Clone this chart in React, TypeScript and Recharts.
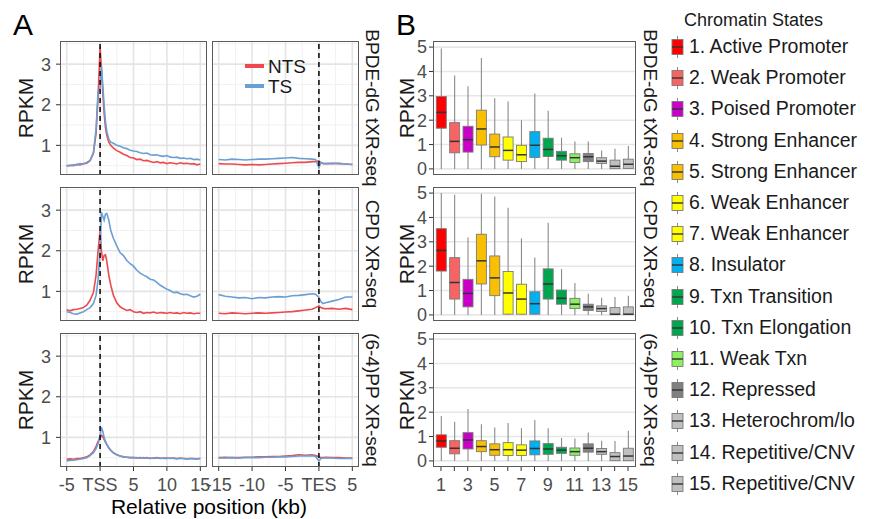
import React from 'react';
import { LineChart, Line, XAxis, YAxis, CartesianGrid, ReferenceLine, BarChart, Bar } from 'recharts';

const FONT = '"Liberation Sans", Arial, Helvetica, sans-serif';

// ---------- Panel A data ----------
const strandNames = ['NTS', 'TS'];
const assayNames = ['BPDE-dG tXR-seq', 'CPD XR-seq', '(6-4)PP XR-seq'];

const tssX = [-5, -4.5, -4, -3.5, -3, -2.5, -2, -1.5, -1, -0.6, -0.3, 0, 0.2, 0.4, 0.6, 0.8, 1, 1.3, 1.6, 2, 2.5, 3, 3.5, 4, 4.5, 5, 5.5, 6, 6.5, 7, 7.5, 8, 8.5, 9, 9.5, 10, 10.5, 11, 11.5, 12, 12.5, 13, 13.5, 14, 14.5, 15];
const tesX = [-15, -14, -13, -12, -11, -10, -9, -8, -7, -6, -5, -4, -3, -2, -1, -0.5, 0, 0.3, 0.6, 1, 2, 3, 4, 5];

const bpdeTssNTS = [0.49, 0.51, 0.5, 0.53, 0.52, 0.55, 0.56, 0.62, 0.8, 1.3, 2.2, 3.42, 2.9, 2.3, 1.8, 1.45, 1.25, 1.08, 1.0, 0.93, 0.87, 0.83, 0.78, 0.75, 0.7, 0.69, 0.65, 0.66, 0.62, 0.63, 0.6, 0.58, 0.6, 0.57, 0.58, 0.55, 0.57, 0.56, 0.54, 0.57, 0.55, 0.56, 0.54, 0.55, 0.52, 0.54];
const bpdeTssTS = [0.5, 0.5, 0.52, 0.52, 0.55, 0.54, 0.58, 0.63, 0.82, 1.4, 2.35, 2.4, 2.95, 2.5, 2.0, 1.6, 1.35, 1.15, 1.08, 1.05, 1.0, 0.98, 0.94, 0.92, 0.88, 0.86, 0.85, 0.82, 0.8, 0.81, 0.77, 0.76, 0.77, 0.74, 0.73, 0.75, 0.71, 0.7, 0.71, 0.68, 0.69, 0.67, 0.68, 0.65, 0.66, 0.64];
const bpdeTesNTS = [0.55, 0.54, 0.54, 0.53, 0.52, 0.53, 0.52, 0.53, 0.54, 0.55, 0.56, 0.57, 0.58, 0.58, 0.6, 0.6, 0.62, 0.57, 0.55, 0.55, 0.56, 0.55, 0.54, 0.53];
const bpdeTesTS = [0.65, 0.64, 0.66, 0.65, 0.64, 0.65, 0.66, 0.66, 0.67, 0.68, 0.69, 0.7, 0.68, 0.67, 0.66, 0.65, 0.45, 0.58, 0.56, 0.55, 0.55, 0.56, 0.54, 0.53];

const cpdTssNTS = [0.55, 0.52, 0.55, 0.56, 0.58, 0.6, 0.66, 0.78, 0.97, 1.4, 2.0, 2.5, 2.0, 1.75, 1.88, 1.9, 1.75, 1.4, 1.15, 0.9, 0.72, 0.62, 0.57, 0.53, 0.55, 0.5, 0.48, 0.5, 0.46, 0.48, 0.47, 0.49, 0.46, 0.48, 0.47, 0.46, 0.48, 0.46, 0.47, 0.45, 0.48, 0.46, 0.47, 0.45, 0.46, 0.46];
const cpdTssTS = [0.5, 0.48, 0.45, 0.44, 0.47, 0.5, 0.55, 0.6, 0.7, 0.9, 1.3, 2.0, 2.95, 2.85, 2.75, 2.9, 2.92, 2.75, 2.5, 2.3, 2.12, 1.95, 1.88, 1.76, 1.68, 1.62, 1.52, 1.45, 1.4, 1.36, 1.3, 1.28, 1.22, 1.15, 1.1, 1.05, 1.02, 0.97, 0.98, 0.94, 0.92, 0.93, 0.89, 0.86, 0.88, 0.93];
const cpdTesNTS = [0.46, 0.45, 0.47, 0.46, 0.45, 0.46, 0.47, 0.46, 0.47, 0.48, 0.49, 0.5, 0.52, 0.54, 0.56, 0.6, 0.64, 0.6, 0.58, 0.57, 0.58, 0.56, 0.58, 0.55];
const cpdTesTS = [0.92, 0.88, 0.86, 0.84, 0.85, 0.82, 0.85, 0.84, 0.86, 0.87, 0.86, 0.89, 0.9, 0.92, 0.94, 0.93, 0.85, 0.75, 0.7, 0.72, 0.76, 0.8, 0.86, 0.86];

const pp64TssNTS = [0.46, 0.47, 0.46, 0.48, 0.48, 0.5, 0.52, 0.57, 0.65, 0.78, 0.9, 0.98, 1.05, 1.02, 0.95, 0.88, 0.82, 0.74, 0.68, 0.62, 0.57, 0.54, 0.52, 0.51, 0.5, 0.5, 0.49, 0.5, 0.49, 0.5, 0.48, 0.49, 0.5, 0.48, 0.49, 0.49, 0.48, 0.49, 0.48, 0.49, 0.48, 0.47, 0.48, 0.48, 0.47, 0.48];
const pp64TssTS = [0.42, 0.43, 0.44, 0.45, 0.46, 0.48, 0.5, 0.55, 0.62, 0.72, 0.85, 1.05, 1.25, 1.15, 1.0, 0.9, 0.83, 0.75, 0.68, 0.62, 0.57, 0.54, 0.52, 0.51, 0.5, 0.5, 0.5, 0.49, 0.5, 0.49, 0.49, 0.48, 0.49, 0.49, 0.48, 0.48, 0.49, 0.48, 0.47, 0.48, 0.48, 0.47, 0.48, 0.47, 0.47, 0.48];
const pp64TesNTS = [0.5, 0.51, 0.5, 0.5, 0.51, 0.51, 0.52, 0.52, 0.53, 0.53, 0.54, 0.55, 0.57, 0.56, 0.57, 0.55, 0.52, 0.5, 0.5, 0.51, 0.5, 0.5, 0.49, 0.49];
const pp64TesTS = [0.49, 0.49, 0.5, 0.49, 0.5, 0.5, 0.5, 0.51, 0.51, 0.52, 0.52, 0.53, 0.54, 0.54, 0.55, 0.53, 0.42, 0.48, 0.49, 0.49, 0.49, 0.48, 0.48, 0.48];

const tssTicks = [-5, 0, 5, 10, 15];
const tssMinor = [-2.5, 2.5, 7.5, 12.5];
const tesTicks = [-15, -10, -5, 0, 5];
const tesMinor = [-12.5, -7.5, -2.5, 2.5];
const rpkmTicksA = [1, 2, 3];
const rpkmMinorA = [0.5, 1.5, 2.5, 3.5];

// ---------- Panel B data ----------
const stateIds = ['1', '2', '3', '4', '5', '6', '7', '8', '9', '10', '11', '12', '13', '14', '15'];
const stateNames = ['1. Active Promoter', '2. Weak Promoter', '3. Poised Promoter', '4. Strong Enhancer', '5. Strong Enhancer', '6. Weak Enhancer', '7. Weak Enhancer', '8. Insulator', '9. Txn Transition', '10. Txn Elongation', '11. Weak Txn', '12. Repressed', '13. Heterochrom/lo', '14. Repetitive/CNV', '15. Repetitive/CNV'];
const rpkmTicksB = [0, 1, 2, 3, 4, 5];

const bpdeLow = [0, 0, 0, 0, 0, 0, 0, 0, 0, 0, 0, 0, 0, 0, 0];
const bpdeQ1 = [1.67, 0.66, 0.69, 0.98, 0.5, 0.36, 0.3, 0.47, 0.51, 0.36, 0.26, 0.3, 0.22, 0.01, 0.02];
const bpdeMed = [2.32, 1.13, 1.2, 1.64, 0.9, 0.76, 0.58, 0.97, 0.8, 0.54, 0.46, 0.5, 0.32, 0.11, 0.19];
const bpdeQ3 = [2.97, 1.9, 1.75, 2.41, 1.43, 1.31, 0.97, 1.53, 1.26, 0.72, 0.62, 0.63, 0.46, 0.36, 0.4];
const bpdeHigh = [4.94, 3.83, 3.39, 4.55, 2.9, 2.77, 2.0, 3.1, 2.39, 1.28, 1.13, 1.13, 0.76, 0.83, 0.94];

const cpdLow = [0, 0, 0, 0, 0, 0, 0, 0, 0, 0, 0, 0, 0, 0, 0];
const cpdQ1 = [1.8, 0.65, 0.33, 1.27, 0.79, 0.03, 0.03, 0.03, 0.65, 0.44, 0.26, 0.18, 0.14, 0.01, 0.01];
const cpdMed = [2.65, 1.33, 0.88, 2.22, 1.52, 0.9, 0.65, 0.46, 1.27, 0.68, 0.44, 0.33, 0.26, 0.03, 0.03];
const cpdQ3 = [3.54, 2.35, 1.46, 3.31, 2.42, 1.78, 1.26, 0.95, 1.89, 1.02, 0.68, 0.44, 0.37, 0.3, 0.33];
const cpdHigh = [5.0, 4.93, 3.18, 4.97, 4.86, 4.4, 3.14, 2.36, 3.78, 1.89, 1.31, 0.87, 0.7, 0.73, 0.79];

const pp64Low = [0, 0, 0, 0, 0, 0, 0, 0, 0, 0, 0, 0, 0, 0, 0];
const pp64Q1 = [0.56, 0.29, 0.49, 0.38, 0.23, 0.22, 0.22, 0.25, 0.27, 0.31, 0.23, 0.36, 0.27, 0.01, 0.01];
const pp64Med = [0.82, 0.52, 0.86, 0.59, 0.46, 0.46, 0.44, 0.51, 0.49, 0.44, 0.38, 0.52, 0.38, 0.18, 0.2];
const pp64Q3 = [1.07, 0.83, 1.16, 0.83, 0.7, 0.75, 0.66, 0.82, 0.71, 0.56, 0.53, 0.7, 0.51, 0.34, 0.52];
const pp64High = [1.84, 1.61, 2.13, 1.5, 1.37, 1.56, 1.34, 1.68, 1.34, 0.94, 0.92, 1.17, 0.83, 0.82, 1.24];

// ---------- styles ----------
const RED = '#EC4A4E';
const BLUE = '#6A9FD3';
const stateColors = ['#FF0000', '#F86464', '#C800C8', '#F8C000', '#F8C000', '#FFFF00', '#FFFF00', '#00B0F0', '#00A64F', '#00A64F', '#8CF060', '#808080', '#C0C0C0', '#C0C0C0', '#C0C0C0'];

const makeLineRows = (xs: number[], nts: number[], ts: number[]) =>
  xs.map((x, i) => ({ x, NTS: nts[i], TS: ts[i] }));

const makeBoxRows = (lo: number[], q1: number[], med: number[], q3: number[], hi: number[]) =>
  stateIds.map((s, i) => ({ state: s, lo: lo[i], q1: q1[i], med: med[i], q3: q3[i], hi: hi[i], range: [lo[i], hi[i]] }));

const lineRows = [
  [makeLineRows(tssX, bpdeTssNTS, bpdeTssTS), makeLineRows(tesX, bpdeTesNTS, bpdeTesTS)],
  [makeLineRows(tssX, cpdTssNTS, cpdTssTS), makeLineRows(tesX, cpdTesNTS, cpdTesTS)],
  [makeLineRows(tssX, pp64TssNTS, pp64TssTS), makeLineRows(tesX, pp64TesNTS, pp64TesTS)],
];
const boxRows = [
  makeBoxRows(bpdeLow, bpdeQ1, bpdeMed, bpdeQ3, bpdeHigh),
  makeBoxRows(cpdLow, cpdQ1, cpdMed, cpdQ3, cpdHigh),
  makeBoxRows(pp64Low, pp64Q1, pp64Med, pp64Q3, pp64High),
];

// layout
const ROW_TOPS = [41, 187, 333];
const ROW_H = 134;
const A_COLS = [60, 212];
const A_W = 147;
const B_LEFT = 433;
const B_W = 203;

const tickStyle = { fontSize: 18, fill: '#4D4D4D', fontFamily: FONT };

function LinePanel({ col, row }: { col: number; row: number }) {
  const showY = col === 0;
  const showX = row === 2;
  const yW = showY ? 60 : 0;
  const xH = showX ? 40 : 0;
  const mL = col === 0 ? 0 : 16;
  const mR = col === 0 ? 12 : 8;
  const ticks = col === 0 ? tssTicks : tesTicks;
  const minor = col === 0 ? tssMinor : tesMinor;
  const domain = col === 0 ? [-6, 16] : [-16, 6];
  const label = col === 0 ? 'TSS' : 'TES';
  return (
    <div style={{ position: 'absolute', left: A_COLS[col] - yW - mL, top: ROW_TOPS[row] }}>
      <LineChart width={A_W + yW + mL + mR} height={ROW_H + xH} data={lineRows[row][col]} margin={{ top: 0, right: mR, bottom: 0, left: mL }}>
        <CartesianGrid horizontalValues={rpkmMinorA} verticalValues={minor} stroke="#F1F1F1" strokeWidth={1} />
        <CartesianGrid horizontalValues={rpkmTicksA} verticalValues={ticks} stroke="#E4E4E4" strokeWidth={1.6} />
        <XAxis
          type="number"
          dataKey="x"
          domain={domain}
          ticks={ticks}
          interval={0}
          hide={!showX}
          height={40}
          axisLine={false}
          tickLine={{ stroke: '#333' }}
          tickSize={4}
          tickMargin={7}
          tick={tickStyle}
          tickFormatter={(v: number) => (v === 0 ? label : String(v))}
        />
        <YAxis
          type="number"
          domain={[0.27, 3.57]}
          ticks={rpkmTicksA}
          interval={0}
          hide={!showY}
          width={60}
          axisLine={false}
          tickLine={{ stroke: '#333' }}
          tickSize={4}
          tickMargin={5}
          tick={tickStyle}
        />
        <Line dataKey="NTS" stroke={RED} strokeWidth={1.6} dot={false} isAnimationActive={false} />
        <Line dataKey="TS" stroke={BLUE} strokeWidth={1.6} dot={false} isAnimationActive={false} />
        <ReferenceLine x={0} stroke="#111" strokeWidth={1.6} strokeDasharray="5 4" />
      </LineChart>
      <div style={{ position: 'absolute', left: yW + mL, top: 0, width: A_W, height: ROW_H, border: '1.2px solid #5A5A5A', boxSizing: 'border-box', pointerEvents: 'none' }} />
    </div>
  );
}

function BoxShape(props: any) {
  const { x, y, width, height, payload } = props;
  if (!payload) return null;
  const top = height >= 0 ? y : y + height;
  const h = Math.abs(height);
  const span = payload.hi - payload.lo;
  const k = span > 0 ? h / span : 0;
  const py = (v: number) => top + (payload.hi - v) * k;
  const cx = x + width / 2;
  const idx = stateIds.indexOf(payload.state);
  return (
    <g>
      <line x1={cx} x2={cx} y1={py(payload.hi)} y2={py(payload.lo)} stroke="#8A8A8A" strokeWidth={1.1} />
      <rect x={x} y={py(payload.q3)} width={width} height={Math.max(py(payload.q1) - py(payload.q3), 0.5)} fill={stateColors[idx]} stroke="#7A7A7A" strokeWidth={0.9} />
      <line x1={x} x2={x + width} y1={py(payload.med)} y2={py(payload.med)} stroke="#333" strokeWidth={1.5} />
    </g>
  );
}

function BoxPanel({ row }: { row: number }) {
  const showX = row === 2;
  const yW = 53;
  const mR = 10;
  const mT = 10;
  const mB = showX ? 0 : 10;
  const xH = showX ? 40 : 0;
  return (
    <div style={{ position: 'absolute', left: B_LEFT - yW, top: ROW_TOPS[row] - mT }}>
      <BarChart width={B_W + yW + mR} height={ROW_H + xH + mT + mB} data={boxRows[row]} margin={{ top: mT, right: mR, bottom: mB, left: 0 }}>
        <CartesianGrid vertical={false} horizontalValues={rpkmTicksB} stroke="#E6E6E6" strokeWidth={1.6} />
        <XAxis
          dataKey="state"
          interval={0}
          hide={!showX}
          height={40}
          padding={{ left: 1.3, right: 1.3 }}
          axisLine={false}
          tickLine={{ stroke: '#333' }}
          tickSize={4}
          tickMargin={7}
          tick={tickStyle}
          tickFormatter={(v: string) => (Number(v) % 2 === 1 ? v : '')}
        />
        <YAxis
          type="number"
          domain={[-0.25, 5.25]}
          ticks={rpkmTicksB}
          interval={0}
          width={yW}
          axisLine={false}
          tickLine={{ stroke: '#333' }}
          tickSize={4}
          tickMargin={2}
          tick={tickStyle}
        />
        <Bar dataKey="range" barSize={10} shape={BoxShape} isAnimationActive={false} />
      </BarChart>
      <div style={{ position: 'absolute', left: yW, top: mT, width: B_W, height: ROW_H, border: '1.2px solid #5A5A5A', boxSizing: 'border-box', pointerEvents: 'none' }} />
    </div>
  );
}

const abs = (s: React.CSSProperties): React.CSSProperties => ({ position: 'absolute', fontFamily: FONT, whiteSpace: 'nowrap', ...s });

function VText({ x, y, text, size, rot }: { x: number; y: number; text: string; size: number; rot: number }) {
  return (
    <div style={abs({ left: x, top: y, fontSize: size, color: '#1A1A1A', transform: `translate(-50%, -50%) rotate(${rot}deg)`, lineHeight: 1 })}>{text}</div>
  );
}

export default function App() {
  const rowCenters = ROW_TOPS.map((t) => t + ROW_H / 2);
  return (
    <div style={{ position: 'absolute', left: 0, top: 0, width: 869, height: 519, background: '#fff', overflow: 'hidden' }}>
      <div style={abs({ left: 13, top: 8, fontSize: 30, color: '#000' })}>A</div>
      <div style={abs({ left: 396, top: 8, fontSize: 30, color: '#000' })}>B</div>

      {[0, 1, 2].map((r) => (
        <React.Fragment key={r}>
          <LinePanel col={0} row={r} />
          <LinePanel col={1} row={r} />
          <BoxPanel row={r} />
          <VText x={25} y={rowCenters[r]} text="RPKM" size={21} rot={-90} />
          <VText x={406} y={rowCenters[r]} text="RPKM" size={21} rot={-90} />
          <VText x={372} y={rowCenters[r]} text={assayNames[r]} size={19} rot={90} />
          <VText x={650} y={rowCenters[r]} text={assayNames[r]} size={19} rot={90} />
        </React.Fragment>
      ))}

      <div style={abs({ left: 209, top: 506, fontSize: 21, color: '#000', transform: 'translate(-50%, -50%)', lineHeight: 1 })}>Relative position (kb)</div>

      {/* strand legend */}
      {strandNames.map((s, i) => (
        <React.Fragment key={s}>
          <div style={{ position: 'absolute', left: 245, top: 64 + i * 20, width: 19, height: 4, background: i === 0 ? RED : BLUE }} />
          <div style={abs({ left: 268, top: 66 + i * 20, fontSize: 19, color: '#1A1A1A', transform: 'translateY(-50%)', lineHeight: 1 })}>{s}</div>
        </React.Fragment>
      ))}

      {/* chromatin state legend */}
      <div style={abs({ left: 684, top: 20, fontSize: 18, color: '#1A1A1A', transform: 'translateY(-50%)', lineHeight: 1 })}>Chromatin States</div>
      {stateNames.map((n, i) => {
        const cy = 47 + i * 31.2;
        return (
          <React.Fragment key={n}>
            <svg style={{ position: 'absolute', left: 671, top: cy - 11 }} width={13} height={22}>
              <line x1={6.5} x2={6.5} y1={0} y2={22} stroke="#8A8A8A" strokeWidth={1} />
              <rect x={1} y={3.5} width={11} height={15} fill={stateColors[i]} stroke="#7A7A7A" strokeWidth={0.9} />
              <line x1={1} x2={12} y1={11} y2={11} stroke="#333" strokeWidth={1.4} />
            </svg>
            <div style={abs({ left: 689, top: cy, fontSize: 19.5, color: '#1A1A1A', transform: 'translateY(-50%)', lineHeight: 1 })}>{n}</div>
          </React.Fragment>
        );
      })}
    </div>
  );
}
